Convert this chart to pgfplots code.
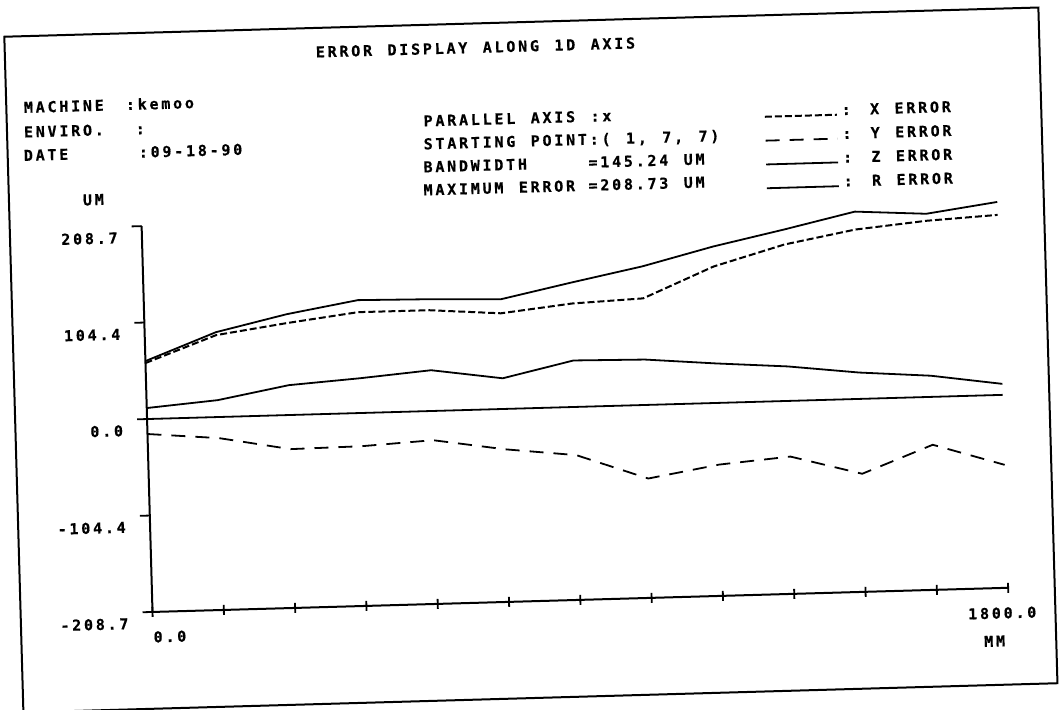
\documentclass[border=0pt]{standalone}
\usepackage{fontspec}
\setmainfont{DejaVu Sans Mono}[LetterSpace=18.5, WordSpace={1.307,0,0}, BoldFeatures={FakeBold=0.5}]
\usepackage{pgfplots}
\pgfplotsset{compat=1.18}
\begin{document}
\begin{tikzpicture}[font=\fontsize{7.5pt}{9pt}\selectfont\bfseries,
  txt/.style={anchor=west, inner sep=0pt, text height=5.5pt, text depth=0pt}]
\useasboundingbox (-265.25pt,-177.5pt) rectangle (265.25pt,177.5pt);
\begin{scope}[transform canvas={rotate=1.62}]
\draw[line width=1pt] (-258.5pt,-171.5pt) rectangle (258.75pt,166.5pt);
\begin{axis}[
  at={(-192.55pt,-123.1pt)}, anchor=south west,
  scale only axis, width=428pt, height=193pt,
  xmin=0, xmax=1800, ymin=-208.7, ymax=208.7,
  enlargelimits=false, clip=false,
  axis x line=bottom, axis y line=left,
  axis line style={-, line width=1pt},
  xtick={0,150,...,1800}, xticklabels={},
  ytick={-208.7,-104.4,0,104.4,208.7},
  yticklabels={-208.7,-104.4,0.0,104.4,208.7},
  xtick align=center, ytick align=outside,
  major tick length=5pt,
  tick style={line width=0.9pt, black},
  yticklabel style={anchor=east, inner sep=0pt, yshift=-5.5pt, xshift=-7pt, text height=5.5pt, text depth=0pt},
  /pgf/number format/assume math mode=true,
  legend style={at={(0.7303,1.2661)}, anchor=north west, draw=none, fill=none,
    inner sep=0pt, outer sep=0pt, row sep=6pt, column sep=2pt,
    nodes={inner sep=0pt, text height=5.5pt, text depth=0pt}},
  legend cell align=left,
  legend image code/.code={\draw[#1] (0pt,-2.5pt) -- (36pt,-2.5pt); \path (0pt,2.5pt);},
]
\addplot[black, line width=1pt, dash pattern=on 3.5pt off 1.5pt] coordinates {
(0,60.6) (150,88.6) (300,99.5) (450,109.1) (600,109.0) (750,103.5) (900,111.9)
(1050,115.3) (1200,147.6) (1350,169.2) (1500,183.2) (1650,190.5) (1800,194.7)};
\addlegendentry{: X ERROR}
\addplot[black, line width=0.9pt, dash pattern=on 7pt off 5pt] coordinates {
(0,-16.2) (150,-22.8) (300,-36.9) (450,-35.9) (600,-31.6) (750,-43.6) (900,-52.1)
(1050,-79.6) (1200,-66.7) (1350,-60.2) (1500,-81.0) (1650,-51.8) (1800,-75.7)};
\addlegendentry{: Y ERROR}
\addplot[black, line width=0.9pt] coordinates {
(0,11.9) (150,18.3) (300,32.3) (450,37.6) (600,44.1) (750,33.2) (900,50.3)
(1050,49.1) (1200,42.7) (1350,37.3) (1500,28.5) (1650,22.9) (1800,11.9)};
\addlegendentry{: Z ERROR}
\addplot[black, line width=0.9pt] coordinates {
(0,62.7) (150,91.8) (300,109.1) (450,122.1) (600,120.9) (750,118.6) (900,134.6)
(1050,149.9) (1200,169.2) (1350,185.4) (1500,202.6) (1650,198.1) (1800,208.7)};
\addlegendentry{: R ERROR}
\addplot[black, line width=0.9pt, forget plot] coordinates {(0,0) (1800,0)};
\node[txt, yshift=-12.5pt] at (axis cs:0,-208.7) {0.0};
\node[txt, anchor=center, xshift=-3.3pt, yshift=-12.5pt] at (axis cs:1800,-208.7) {1800.0};
\node[txt, anchor=center, xshift=-7.5pt, yshift=-26.5pt] at (axis cs:1800,-208.7) {MM};
\end{axis}
\node[txt] at (-103.2pt,154.5pt) {ERROR DISPLAY ALONG 1D AXIS};
\node[txt] at (-249.9pt,130.9pt) {MACHINE};
\node[txt] at (-198.9pt,130.9pt) {:kemoo};
\node[txt] at (-250.2pt,118.6pt) {ENVIRO.};
\node[txt] at (-194.3pt,118.6pt) {:};
\node[txt] at (-250.6pt,106.9pt) {DATE};
\node[txt] at (-193.1pt,106.9pt) {:09-18-90};
\node[txt] at (-221.7pt,83.8pt) {UM};
\node[txt] at (-50.3pt,118.5pt) {PARALLEL AXIS :x};
\node[txt] at (-50.6pt,107.0pt) {STARTING POINT:( 1, 7, 7)};
\node[txt] at (-51.0pt,95.5pt) {BANDWIDTH};
\node[txt] at (31.5pt,95.5pt) {=145.24 UM};
\node[txt] at (-51.3pt,84.0pt) {MAXIMUM ERROR};
\node[txt] at (31.2pt,84.0pt) {=208.73 UM};
\end{scope}
\end{tikzpicture}
\end{document}
